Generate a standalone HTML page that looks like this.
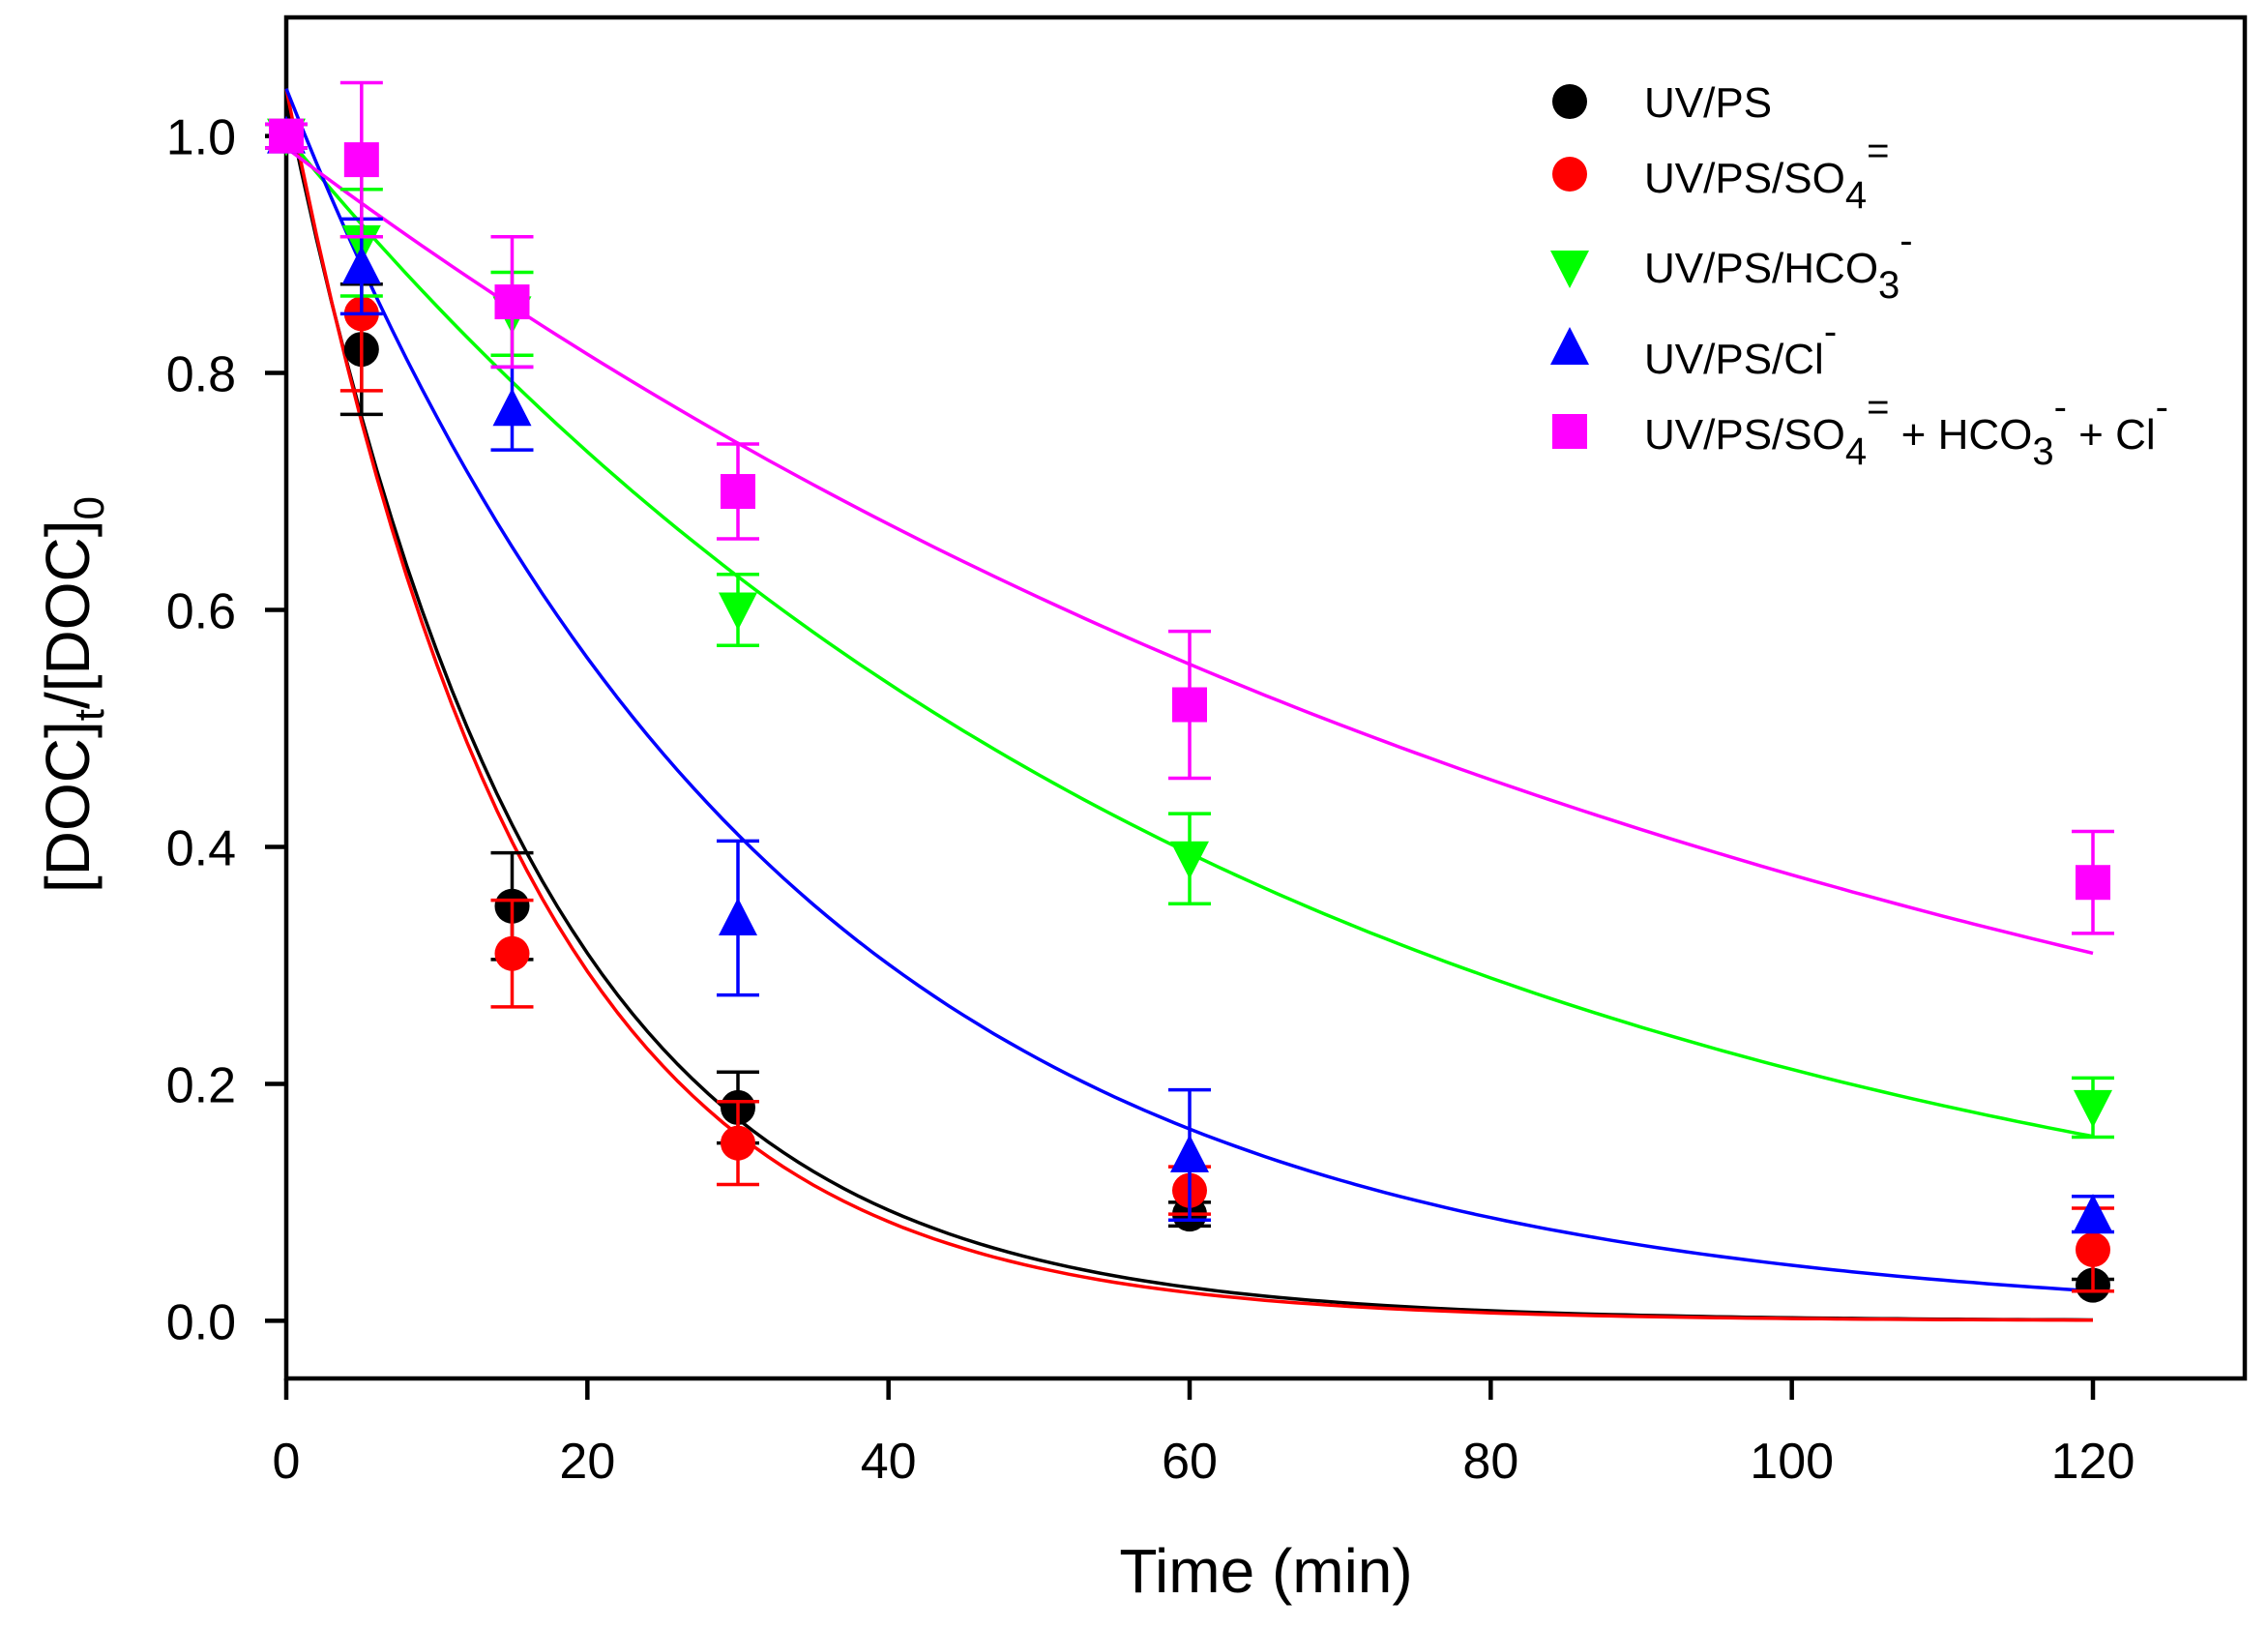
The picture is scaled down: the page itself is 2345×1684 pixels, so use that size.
<!DOCTYPE html>
<html><head><meta charset="utf-8"><style>
body{margin:0;background:#fff}
svg text{font-family:"Liberation Sans",Arial,sans-serif}
</style></head><body>
<svg id="chart" width="2345" height="1679" viewBox="0 0 2345 1679" xmlns="http://www.w3.org/2000/svg">
<rect x="296" y="18" width="2025" height="1407" fill="none" stroke="#000" stroke-width="4.5"/>
<g id="axes"></g>
<g id="curves"></g>
<g id="marks"></g>
<text x="1309" y="1646" font-size="64" text-anchor="middle">Time (min)</text>
<text transform="translate(92,718) rotate(-90)" font-size="64" text-anchor="middle">[DOC]<tspan font-size="44" dy="15">t</tspan><tspan dy="-15">/[DOC]</tspan><tspan font-size="44" dy="15">0</tspan></text>
<g id="legend" font-size="44">
<text x="1700" y="121">UV/PS</text>
<text x="1700" y="199">UV/PS/SO<tspan font-size="40" dy="16">4</tspan><tspan font-size="40" dy="-46">=</tspan></text>
<text x="1700" y="292">UV/PS/HCO<tspan font-size="40" dy="16">3</tspan><tspan font-size="40" dy="-46">-</tspan></text>
<text x="1700" y="386">UV/PS/Cl<tspan font-size="40" dy="-30">-</tspan></text>
<text x="1700" y="464">UV/PS/SO<tspan font-size="40" dy="16">4</tspan><tspan font-size="40" dy="-46">=</tspan><tspan dy="30"> + HCO</tspan><tspan font-size="40" dy="16">3</tspan><tspan font-size="40" dy="-46">-</tspan><tspan dy="30"> + Cl</tspan><tspan font-size="40" dy="-30">-</tspan></text>
</g>
</svg>
<script>
const times=[0,5,15,30,60,120];
const seriesNames=['uvps','sulfate','bicarbonate','chloride','mixed'];
const colors=['#000000','#ff0000','#00ff00','#0000ff','#ff00ff'];
const markers=['circle','circle','down','up','square'];
const valsUvps=[1.0,0.82,0.35,0.18,0.09,0.03];
const valsSulfate=[1.0,0.85,0.31,0.15,0.11,0.06];
const valsBicarb=[1.0,0.91,0.85,0.60,0.39,0.18];
const valsChloride=[1.0,0.89,0.77,0.34,0.14,0.09];
const valsMixed=[1.0,0.98,0.86,0.70,0.52,0.37];
const errUvps=[0.01,0.055,0.045,0.03,0.01,0.005];
const errSulfate=[0.01,0.065,0.045,0.035,0.02,0.035];
const errBicarb=[0.01,0.045,0.035,0.03,0.038,0.025];
const errChloride=[0.01,0.04,0.035,0.065,0.055,0.015];
const errMixed=[0.01,0.065,0.055,0.04,0.062,0.043];
const fitA=[1.03,1.04,1.0,1.04,0.99];
const fitK=[0.060,0.063,0.0155,0.031,0.00967];
const xTicks=[0,20,40,60,80,100,120];
const yTicks=[0.0,0.2,0.4,0.6,0.8,1.0];
const allVals=[valsUvps,valsSulfate,valsBicarb,valsChloride,valsMixed];
const allErr=[errUvps,errSulfate,errBicarb,errChloride,errMixed];
const legendY=[105,180,277,359,446];

const NS='http://www.w3.org/2000/svg';
const X=t=>296+(t/120)*(2164-296);
const Y=v=>1365.4-v*(1365.4-140.6);
function mk(tag,attrs,parent){const e=document.createElementNS(NS,tag);for(const k in attrs)e.setAttribute(k,attrs[k]);parent.appendChild(e);return e;}
const axes=document.getElementById('axes');
xTicks.forEach(t=>{
  const l=mk('line',{x1:X(t),x2:X(t),y1:1425,y2:1447,stroke:'#000','stroke-width':4.5},axes);
  
  
  const tx=mk('text',{x:X(t),y:1528,'font-size':52,'text-anchor':'middle'},axes);tx.textContent=t;
  
  
});
yTicks.forEach(v=>{
  const l=mk('line',{x1:274,x2:296,y1:Y(v),y2:Y(v),stroke:'#000','stroke-width':4.5},axes);
  
  
  const tx=mk('text',{x:244,y:Y(v)+19,'font-size':52,'text-anchor':'end'},axes);tx.textContent=v.toFixed(1);
  
  
});
const curves=document.getElementById('curves');
fitA.forEach((a,i)=>{
  let d='';for(let t=0;t<=120;t+=1){d+=(t?'L':'M')+X(t).toFixed(1)+','+Y(a*Math.exp(-fitK[i]*t)).toFixed(1);}
  const p=mk('path',{d:d,fill:'none',stroke:colors[i],'stroke-width':3.5},curves);
  
  
});
function marker(type,cx,cy,col,parent){
  const s=18;
  if(type==='circle')return mk('circle',{cx:cx,cy:cy,r:s,fill:col},parent);
  if(type==='square')return mk('rect',{x:cx-s,y:cy-s,width:2*s,height:2*s,fill:col},parent);
  if(type==='up')return mk('polygon',{points:`${cx},${cy-s-3} ${cx-s-2},${cy+s} ${cx+s+2},${cy+s}`,fill:col},parent);
  return mk('polygon',{points:`${cx},${cy+s+3} ${cx-s-2},${cy-s} ${cx+s+2},${cy-s}`,fill:col},parent);
}
const marks=document.getElementById('marks');
allVals.forEach((vals,i)=>{
  const g=mk('g',{},marks);
  
  
  vals.forEach((v,j)=>{
    const x=X(times[j]),e=allErr[i][j];
    const eb=mk('path',{d:`M${x},${Y(v+e)}L${x},${Y(v-e)}M${x-22},${Y(v+e)}L${x+22},${Y(v+e)}M${x-22},${Y(v-e)}L${x+22},${Y(v-e)}`,stroke:colors[i],'stroke-width':3.5,fill:'none'},g);
    
    
    const m=marker(markers[i],x,Y(v),colors[i],g);
    
    
  });
  const lm=marker(markers[i],1623,legendY[i],colors[i],document.getElementById('legend'));
  
  
});
</script>
</body></html>
